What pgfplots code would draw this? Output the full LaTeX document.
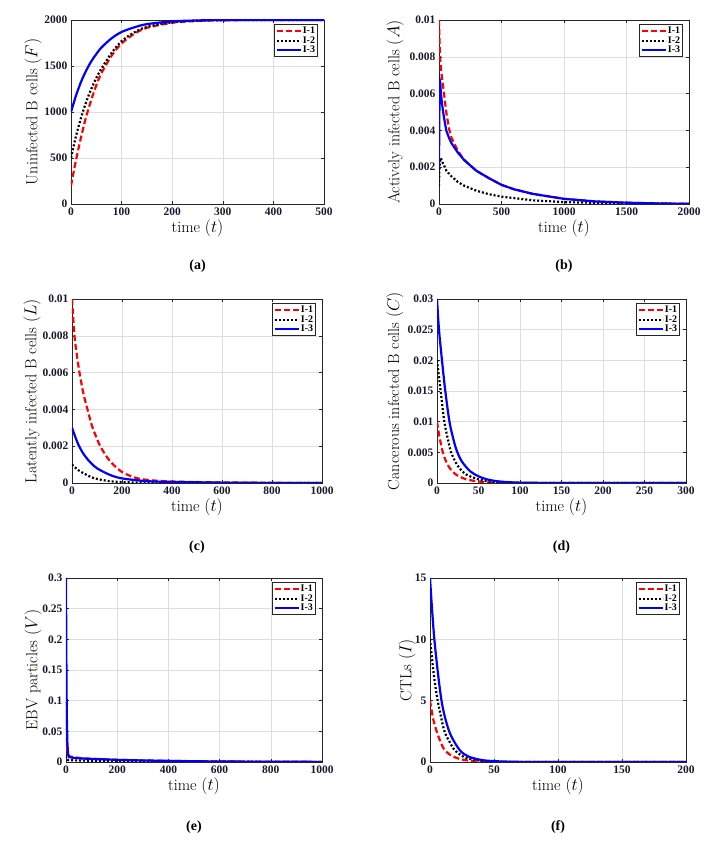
\documentclass[border=0pt]{standalone}
\usepackage{fontspec}
\usepackage{pgfplots}
\pgfplotsset{compat=1.18}
\newfontfamily\timesfam{Liberation Serif}
\newcommand\tickfont{\timesfam\bfseries\fontsize{11.5}{12}\selectfont}
\newcommand\legfont{\timesfam\bfseries\fontsize{10}{11}\selectfont}
\newcommand\labfont{\fontsize{16}{18}\selectfont}
\newcommand\capfont{\timesfam\bfseries\fontsize{14}{15}\selectfont}
\definecolor{axgray}{RGB}{38,38,38}
\definecolor{tickcol}{RGB}{25,25,45}
\definecolor{gridgray}{RGB}{222,222,222}
\pgfplotsset{
  myaxis/.style={
    scale only axis, height=184pt, anchor=south west,
    axis line style={axgray, line width=0.6pt},
    tick style={axgray, line width=0.5pt},
    major tick length=3pt,
    tick align=inside, xtick pos=both, ytick pos=both,
    grid=major, major grid style={gridgray, line width=0.5pt},
    ticklabel style={font=\tickfont, text=tickcol},
    /pgf/number format/assume math mode=true,
    /pgf/number format/fixed,
    /pgf/number format/precision=3,
    /pgf/number format/1000 sep={},
    scaled ticks=false,
    xmin=0, ymin=0,
    label style={font=\labfont},
    xlabel={time $(t)$},
    xlabel style={at={(axis description cs:0.5,-0.13)},anchor=center},
    legend style={at={(axis description cs:0.976,0.978)}, anchor=north east,
      draw=axgray, line width=0.8pt, font=\legfont, inner xsep=1.5pt, inner ysep=1.5pt,
      row sep=-0.5pt, fill=white, nodes={inner sep=1pt}},
    legend cell align=left,
    legend image code/.code={\draw[##1] plot coordinates {(0pt,0pt) (12pt,0pt) (24pt,0pt)};},
  },
  s1/.style={red, line width=2.2pt, dash pattern=on 6pt off 3pt},
  s2/.style={black, line width=2.2pt, dash pattern=on 2pt off 2pt},
  s3/.style={blue, line width=2.2pt},
}
\begin{document}
\begin{tikzpicture}
\path[use as bounding box] (0pt,0pt) rectangle (725pt,844pt);

% (a)
\begin{axis}[myaxis, at={(71pt,640pt)}, width=253pt, xmax=500, ymax=2000,
  xtick={0,100,...,500}, ytick={0,500,...,2000},
  ylabel={Uninfected B cells $(F)$},
  ylabel style={at={(axis description cs:-0.150,0.5)},anchor=center}]
\addplot[s1, smooth, tension=0.5] coordinates {(0,200) (10,480) (20,730) (30,950) (40,1130) (50,1290) (60,1420) (80,1610) (100,1745) (125,1850) (150,1915) (200,1970) (250,1990) (300,1997) (400,2000) (500,2000)};
\addplot[s2, smooth, tension=0.5] coordinates {(0,500) (10,740) (20,940) (30,1110) (40,1250) (50,1370) (60,1470) (80,1640) (100,1770) (125,1865) (150,1925) (200,1975) (250,1992) (300,1998) (400,2000) (500,2000)};
\addplot[s3, smooth, tension=0.5] coordinates {(0,1000) (10,1180) (20,1330) (30,1450) (40,1550) (50,1630) (60,1700) (80,1800) (100,1870) (125,1920) (150,1955) (200,1985) (250,1995) (300,2000) (400,2000) (500,2000)};
\legend{I-1,I-2,I-3}
\end{axis}
\node[font=\capfont] at (197.5pt,578pt) {(a)};

% (b)
\begin{axis}[myaxis, at={(439pt,640pt)}, width=250pt, xmax=2000, ymax=0.01,
  xtick={0,500,...,2000}, ytick={0,0.002,0.004,0.006,0.008,0.01},
  ylabel={Actively infected B cells $(A)$},
  ylabel style={at={(axis description cs:-0.176,0.5)},anchor=center}]
\addplot[s1] coordinates {(0,0.01) (4,0.009) (8,0.008) (15,0.0074) (25,0.0068) (40,0.006) (60,0.0049) (80,0.0041) (100,0.0036) (150,0.0029) (200,0.0024) (266,0.002) (300,0.0018) (400,0.0014) (500,0.00104) (600,0.0008) (750,0.00055) (1000,0.00028) (1250,0.00014) (1500,0.00007) (1750,0.00003) (2000,0.00001)};
\addplot[s2] coordinates {(0,0.001) (3,0.0018) (8,0.0023) (15,0.0025) (25,0.0023) (40,0.0021) (60,0.0018) (100,0.0015) (150,0.0012) (200,0.001) (300,0.00072) (400,0.00053) (500,0.0004) (750,0.0002) (1000,0.0001) (1500,0.00003) (2000,0)};
\addplot[s3] coordinates {(0,0.002) (2,0.004) (4,0.0058) (7,0.0067) (10,0.0066) (15,0.006) (25,0.0054) (40,0.0047) (58,0.004) (80,0.0036) (100,0.0033) (150,0.0028) (200,0.0024) (266,0.002) (300,0.0018) (400,0.0014) (500,0.00104) (600,0.0008) (750,0.00055) (1000,0.00028) (1250,0.00014) (1500,0.00007) (1750,0.00003) (2000,0.00001)};
\legend{I-1,I-2,I-3}
\end{axis}
\node[font=\capfont] at (564pt,578pt) {(b)};

% (c)
\begin{axis}[myaxis, at={(72pt,361pt)}, width=250pt, xmax=1000, ymax=0.01,
  xtick={0,200,...,1000}, ytick={0,0.002,0.004,0.006,0.008,0.01},
  ylabel={Latently infected B cells $(L)$},
  ylabel style={at={(axis description cs:-0.160,0.5)},anchor=center}]
\addplot[s1, smooth, tension=0.5] coordinates {(0,0.01) (10,0.008) (20,0.0069) (30,0.006) (45,0.0049) (62,0.004) (80,0.0031) (100,0.0024) (113,0.002) (140,0.0014) (165,0.001) (200,0.0006) (250,0.0003) (300,0.00017) (400,0.00008) (600,0.00003) (800,0.00001) (1000,0)};
\addplot[s2, smooth, tension=0.5] coordinates {(0,0.001) (25,0.0007) (50,0.0005) (75,0.00033) (100,0.00022) (150,0.0001) (200,0.00005) (300,0.00002) (500,0.000005) (1000,0)};
\addplot[s3, smooth, tension=0.5] coordinates {(0,0.003) (25,0.0021) (50,0.0015) (75,0.0011) (100,0.0008) (150,0.00045) (200,0.00025) (300,0.0001) (400,0.00006) (600,0.00002) (800,0.000005) (1000,0)};
\legend{I-1,I-2,I-3}
\end{axis}
\node[font=\capfont] at (197pt,297pt) {(c)};

% (d)
\begin{axis}[myaxis, at={(437pt,361pt)}, width=249pt, xmax=300, ymax=0.03,
  xtick={0,50,...,300}, ytick={0,0.005,0.01,0.015,0.02,0.025,0.03},
  ylabel={Cancerous infected B cells $(C)$},
  ylabel style={at={(axis description cs:-0.169,0.5)},anchor=center}]
\addplot[s1, smooth, tension=0.5] coordinates {(0,0.01) (3,0.0075) (7,0.005) (11,0.0035) (15,0.0025) (20,0.0017) (25,0.0012) (35,0.0006) (50,0.00025) (60,0.0001) (75,0.00003) (100,0.00001) (150,0) (300,0)};
\addplot[s2, smooth, tension=0.5] coordinates {(0,0.02) (4.4,0.015) (8.8,0.01) (13,0.0072) (17,0.005) (25,0.0028) (35,0.0014) (50,0.0006) (60,0.0003) (75,0.0001) (100,0.00002) (150,0) (300,0)};
\addplot[s3, smooth, tension=0.5] coordinates {(0,0.03) (2.4,0.025) (6,0.02) (10,0.015) (15,0.01) (20,0.007) (24,0.0052) (30,0.0035) (40,0.0019) (50,0.0011) (60,0.0006) (75,0.00025) (100,0.00006) (150,0.00001) (300,0)};
\legend{I-1,I-2,I-3}
\end{axis}
\node[font=\capfont] at (561.5pt,297pt) {(d)};

% (e)
\begin{axis}[myaxis, at={(66pt,82pt)}, width=256pt, xmax=1000, ymax=0.3,
  xtick={0,200,...,1000}, ytick={0,0.05,0.1,0.15,0.2,0.25,0.3},
  ylabel={EBV particles $(V)$},
  ylabel style={at={(axis description cs:-0.129,0.5)},anchor=center}]
\addplot[s1] coordinates {(0,0.1) (1,0.07) (2,0.05) (3,0.035) (5,0.02) (8,0.012) (12,0.0095) (30,0.0078) (60,0.0062) (100,0.0052) (200,0.0036) (300,0.0026) (400,0.0019) (500,0.0013) (600,0.0009) (800,0.0004) (1000,0.0002)};
\addplot[s2] coordinates {(0,0.01) (2,0.006) (5,0.004) (10,0.003) (50,0.0025) (100,0.002) (200,0.0015) (400,0.0008) (600,0.0004) (800,0.0002) (1000,0.0001)};
\addplot[s3] coordinates {(0,0.3) (1,0.2) (2,0.13) (3,0.08) (5,0.035) (8,0.013) (12,0.008) (30,0.0068) (60,0.0058) (100,0.005) (200,0.0035) (300,0.0025) (400,0.0018) (500,0.0012) (600,0.0008) (800,0.0004) (1000,0.0002)};
\legend{I-1,I-2,I-3}
\end{axis}
\node[font=\capfont] at (194pt,17pt) {(e)};

% (f)
\begin{axis}[myaxis, at={(430pt,82pt)}, width=256pt, xmax=200, ymax=15,
  xtick={0,50,...,200}, ytick={0,5,10,15},
  ylabel={CTLs $(I)$},
  ylabel style={at={(axis description cs:-0.090,0.5)},anchor=center}]
\addplot[s1, smooth, tension=0.5] coordinates {(0,5) (2.5,3.5) (5.2,2.5) (8,1.7) (11.3,1.0) (17,0.5) (25,0.2) (35,0.07) (50,0.02) (70,0) (200,0)};
\addplot[s2, smooth, tension=0.5] coordinates {(0,10) (3,7.1) (6,5) (11,2.6) (15,1.7) (19,1.0) (25,0.5) (30,0.28) (40,0.1) (50,0.03) (70,0) (200,0)};
\addplot[s3, smooth, tension=0.5] coordinates {(0,15) (3.4,10) (9,5) (15,2.5) (23,1) (30,0.45) (40,0.17) (50,0.07) (70,0.01) (100,0) (200,0)};
\legend{I-1,I-2,I-3}
\end{axis}
\node[font=\capfont] at (558pt,17pt) {(f)};
\end{tikzpicture}
\end{document}
